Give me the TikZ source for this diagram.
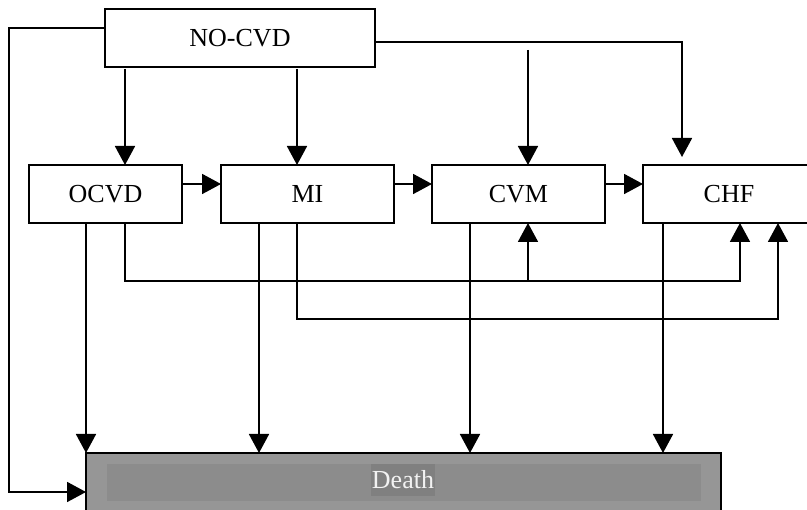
\documentclass[tikz,border=0pt]{standalone}
\usepackage{fontspec}
\setmainfont{Liberation Serif}
\usetikzlibrary{arrows.meta}
\definecolor{deathouter}{HTML}{969696}
\definecolor{deathinner}{HTML}{8C8C8C}
\definecolor{deathlabel}{HTML}{808080}
\definecolor{deathtext}{HTML}{F2F2F2}
\tikzset{
  statebox/.style={draw=black, line width=1.8pt, fill=white, rectangle,
    inner sep=0pt, outer sep=0pt, minimum height=58pt,
    font=\fontsize{26}{28}\selectfont},
  flow/.style={line width=1.8pt, -{Triangle[length=19pt,width=20pt]}},
  plain/.style={line width=1.8pt}
}
\begin{document}
\begin{tikzpicture}[x=1pt, y=-1pt]
\path[use as bounding box, clip] (0,0) rectangle (807,510);

% states
\node[statebox, minimum width=270pt] (nocvd) at (240,38) {NO-CVD};
\node[statebox, minimum width=153pt] (ocvd) at (105.5,194) {OCVD};
\node[statebox, minimum width=173pt] (mi) at (307.5,194) {MI};
\node[statebox, minimum width=173pt] (cvm) at (518.5,194) {CVM};
\node[statebox, minimum width=172pt] (chf) at (729,194) {CHF};

% absorbing state
\node[draw=black, line width=1.8pt, fill=deathouter, rectangle, inner sep=0pt,
      outer sep=0pt, minimum width=635pt, minimum height=59pt] (death) at (403.5,482.5) {};
\fill[deathinner] (107,464) rectangle (701,501);
\node[fill=deathlabel, text=deathtext, inner sep=0pt, minimum width=64pt,
      minimum height=32pt, font=\fontsize{26}{28}\selectfont] (deathname) at (403,480) {Death};

% from NO-CVD
\draw[flow] ([yshift=10pt]nocvd.west) -| ([xshift=-77pt,yshift=-9.5pt]death.west)
            -- ([yshift=-9.5pt]death.west);
\draw[flow] ([xshift=19.5pt,yshift=-2pt]ocvd.north |- nocvd.south) -- ([xshift=19.5pt]ocvd.north);
\draw[flow] ([xshift=-10.5pt,yshift=-2pt]mi.north |- nocvd.south) -- ([xshift=-10.5pt]mi.north);
\draw[flow] ([yshift=-4pt]nocvd.east) -| ([xshift=-47pt,yshift=8pt]chf.north);
\coordinate (cvmfeed) at ([xshift=9.5pt,yshift=115pt]cvm.north);
\draw[flow] (cvmfeed) -- ([xshift=9.5pt]cvm.north);

% progression along the row
\draw[flow] ([yshift=10pt]ocvd.east) -- ([yshift=10pt]mi.west);
\draw[flow] ([yshift=10pt]mi.east) -- ([yshift=10pt]cvm.west);
\draw[flow] ([yshift=10pt]cvm.east) -- ([yshift=10pt]chf.west);

% return paths underneath
\draw[flow] ([xshift=19.5pt]ocvd.south) -- ([xshift=19.5pt,yshift=-58pt]ocvd.south)
            -| ([xshift=11pt]chf.south);
\coordinate (ocvdbranch) at ([xshift=9.5pt,yshift=-58pt]cvm.south);
\draw[flow] (ocvdbranch) -- ([xshift=9.5pt]cvm.south);
\draw[flow] ([xshift=-10.5pt]mi.south) -- ([xshift=-10.5pt,yshift=-96pt]mi.south)
            -| ([xshift=49pt]chf.south);

% to Death
\draw[flow] ([xshift=-19.5pt]ocvd.south) -- ([xshift=-19.5pt]ocvd.south |- death.north);
\draw[flow] ([xshift=-48.5pt]mi.south) -- ([xshift=-48.5pt]mi.south |- death.north);
\draw[flow] ([xshift=-48.5pt]cvm.south) -- ([xshift=-48.5pt]cvm.south |- death.north);
\draw[flow] ([xshift=-66pt]chf.south) -- ([xshift=-66pt]chf.south |- death.north);
\end{tikzpicture}
\end{document}
